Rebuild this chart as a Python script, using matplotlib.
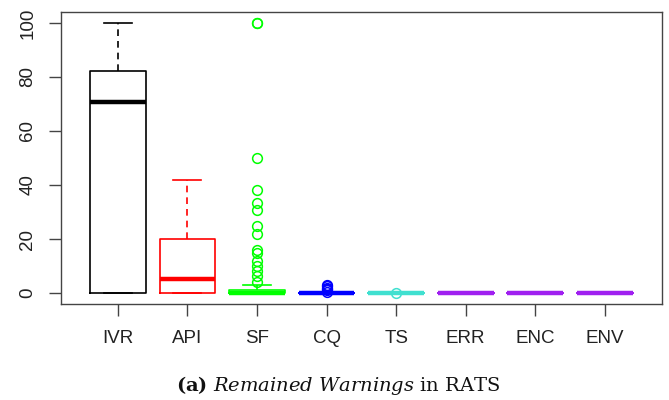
import matplotlib.pyplot as plt
import numpy as np

# ================= Remained warnings per category (RATS) =================
labels = ['IVR', 'API', 'SF', 'CQ', 'TS', 'ERR', 'ENC', 'ENV']
colors = ['black', 'red', '#00FF00', 'blue', '#40E0D0', '#A020F0', '#A020F0', '#A020F0']

whislo = [0, 0, 0, 0, 0, 0, 0, 0]
q1 = [0, 0, 0, 0, 0, 0, 0, 0]
med = [70.8, 5.2, 0, 0, 0, 0, 0, 0]
q3 = [82.1, 20.0, 1.0, 0, 0, 0, 0, 0]
whishi = [100, 41.8, 2.9, 0, 0, 0, 0, 0]
fliers = [
    [],
    [],
    [100, 100, 49.9, 38.3, 33.4, 30.7, 25.0, 21.8, 16.0, 15.0, 11.9, 9.9, 8.3, 6.2, 4.3],
    [0.5, 1, 1.5, 2, 2.5, 3],
    [0.2],
    [],
    [],
    [],
]

# =====================================================
fig = plt.figure(figsize=(6.69, 4.0), dpi=100)
ax = fig.add_axes([60.7 / 669, 1 - 304 / 400, (662 - 60.7) / 669, (304 - 12) / 400])

for i in range(len(labels)):
    c = colors[i]
    stats = [dict(whislo=whislo[i], q1=q1[i], med=med[i], q3=q3[i],
                  whishi=whishi[i], fliers=fliers[i])]
    ax.bxp(stats, positions=[i + 1], widths=0.8, showfliers=True,
           boxprops=dict(color=c, linewidth=1.2),
           medianprops=dict(color=c, linewidth=3.2, solid_capstyle='butt'),
           whiskerprops=dict(color=c, linewidth=1.2, linestyle=(0, (4, 3))),
           capprops=dict(color=c, linewidth=1.2),
           capwidths=0.4,
           flierprops=dict(marker='o', markerfacecolor='none', markeredgecolor=c,
                           markersize=7, markeredgewidth=1.1))

ax.set_xlim(0.18, 8.82)
ax.set_ylim(-4, 104)
ax.set_xticks(range(1, len(labels) + 1))
ax.set_xticklabels(labels)
ax.set_yticks([0, 20, 40, 60, 80, 100])
ax.set_yticklabels(['0', '20', '40', '60', '80', '100'], rotation=90, va='center')

for s in ax.spines.values():
    s.set_color('#444444')
    s.set_linewidth(1.0)
ax.tick_params(axis='both', length=8.6, width=1.0, color='#444444', labelsize=13.5,
               labelcolor='#222222', direction='out')
ax.tick_params(axis='x', pad=10)
ax.tick_params(axis='y', pad=9)
for t in ax.get_xticklabels() + ax.get_yticklabels():
    t.set_family('Liberation Sans')

plt.rcParams['mathtext.fontset'] = 'custom'
plt.rcParams['mathtext.rm'] = 'DejaVu Serif'
plt.rcParams['mathtext.it'] = 'DejaVu Serif:italic'
plt.rcParams['mathtext.bf'] = 'DejaVu Serif:bold'
fig.text(338 / 669, 1 - 391 / 400,
         r'$\mathbf{(a)}\ \mathit{Remained\ Warnings}\ \mathrm{in\ RATS}$',
         ha='center', va='baseline', fontsize=14, color='#111111')

plt.savefig('out.png', dpi=100)
